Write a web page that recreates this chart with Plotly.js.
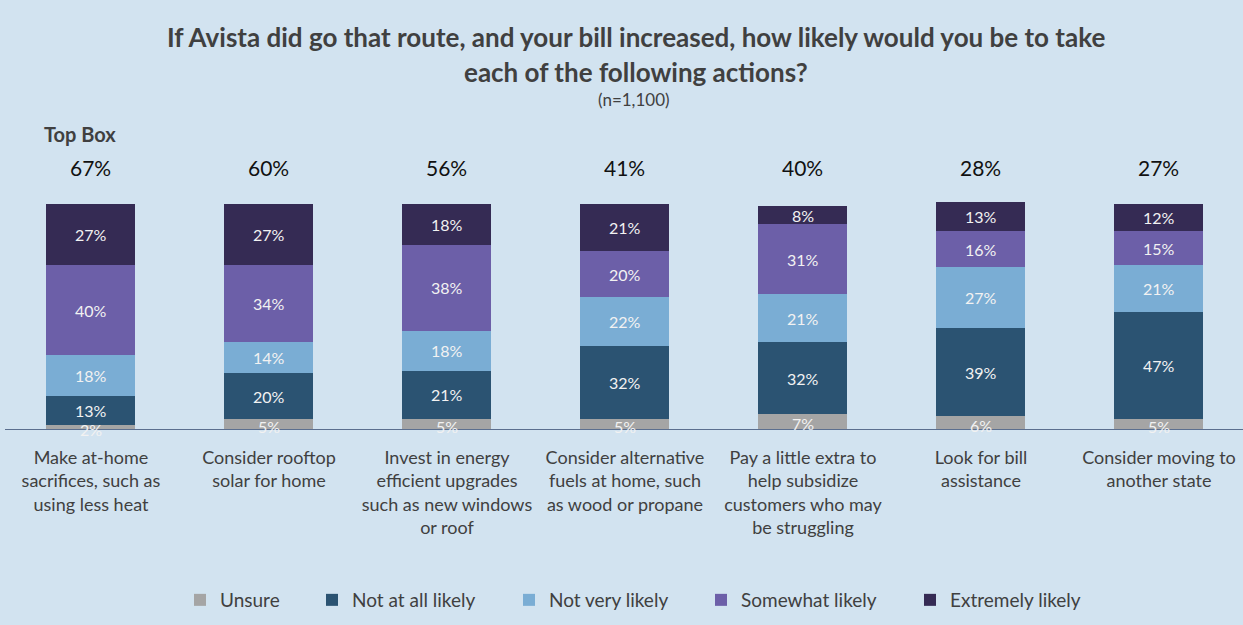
<!DOCTYPE html>
<html>
<head>
<meta charset="utf-8">
<script src="https://cdn.plot.ly/plotly-3.0.1.min.js"></script>
<style>html,body{margin:0;padding:0;background:#d2e3f0;}#chart{width:1243px;height:625px;}</style>
</head>
<body>
<div id="chart"></div>
<script>
const categories = [
  "Make at-home<br>sacrifices, such as<br>using less heat",
  "Consider rooftop<br>solar for home",
  "Invest in energy<br>efficient upgrades<br>such as new windows<br>or roof",
  "Consider alternative<br>fuels at home, such<br>as wood or propane",
  "Pay a little extra to<br>help subsidize<br>customers who may<br>be struggling",
  "Look for bill<br>assistance",
  "Consider moving to<br>another state"
];
const unsure = [2, 5, 5, 5, 7, 6, 5];
const notAtAll = [13, 20, 21, 32, 32, 39, 47];
const notVery = [18, 14, 18, 22, 21, 27, 21];
const somewhat = [40, 34, 38, 20, 31, 16, 15];
const extremely = [27, 27, 18, 21, 8, 13, 12];
const topBox = [67, 60, 56, 41, 40, 28, 27];

const seriesNames = ["Unsure", "Not at all likely", "Not very likely", "Somewhat likely", "Extremely likely"];
const seriesVals = [unsure, notAtAll, notVery, somewhat, extremely];
const colors = ["#a5a5a5", "#2b5372", "#7aadd4", "#6c5fa8", "#352b54"];

const W = 1243, H = 625, T = 140, B = 195;
const plotH = H - T - B;
const baseY = H - B;
const py = p => (baseY - p) / plotH;   // pixel y -> paper y
const px = p => p / W;                 // pixel x -> paper x

const font = "Lato, 'Open Sans', sans-serif";
const legendIds = ["legend", "legend2", "legend3", "legend4", "legend5"];
const legendMarkerX = [200, 332, 529, 721, 930];

const xs = categories.map((c, i) => i);
const traces = seriesVals.map((vals, k) => ({
  type: "bar",
  name: seriesNames[k],
  x: xs,
  y: vals,
  marker: {color: colors[k], line: {width: 0}},
  width: 0.5,
  textposition: "none",
  hoverinfo: "skip",
  legend: legendIds[k]
}));

const annotations = [];
xs.forEach((x, i) => {
  let cum = 0;
  seriesVals.forEach((vals, k) => {
    const v = vals[i];
    let yc = cum + v / 2;
    if (k === 0) yc = cum + v / 2 - 0.8;
    annotations.push({
      x: x, y: yc, xref: "x", yref: "y",
      text: v + "%", showarrow: false,
      font: {family: font, size: 16, color: "#f2f2f2"},
      yanchor: "middle"
    });
    cum += v;
  });
  annotations.push({
    x: x, y: py(167), xref: "x", yref: "paper",
    text: topBox[i] + "%", showarrow: false,
    font: {family: font, size: 21, color: "#111111"},
    yanchor: "middle"
  });
});
annotations.push({
  x: px(80), y: py(134), xref: "paper", yref: "paper", xanchor: "center", yanchor: "middle",
  text: "<b>Top Box</b>", showarrow: false,
  font: {family: font, size: 20, color: "#404040"}
});
annotations.push({
  x: px(636), y: py(37), xref: "paper", yref: "paper", xanchor: "center", yanchor: "middle",
  text: "<b>If Avista did go that route, and your bill increased, how likely would you be to take</b>",
  showarrow: false, font: {family: font, size: 26, color: "#404040"}
});
annotations.push({
  x: px(636), y: py(72), xref: "paper", yref: "paper", xanchor: "center", yanchor: "middle",
  text: "<b>each of the following actions?</b>",
  showarrow: false, font: {family: font, size: 26, color: "#404040"}
});
annotations.push({
  x: px(634), y: py(100), xref: "paper", yref: "paper", xanchor: "center", yanchor: "middle",
  text: "(n=1,100)",
  showarrow: false, font: {family: font, size: 17, color: "#404040"}
});

const layout = {
  width: W, height: H,
  paper_bgcolor: "#d2e3f0",
  plot_bgcolor: "#d2e3f0",
  margin: {l: 0, r: 0, t: T, b: B},
  barmode: "stack",
  xaxis: {
    range: [-0.511, 6.472],
    tickvals: xs, ticktext: categories,
    tickfont: {family: font, size: 18, color: "#404040"},
    ticklabelstandoff: 15,
    showgrid: false, zeroline: false, showline: false,
    ticks: "", fixedrange: true
  },
  yaxis: {
    range: [0, 128.3],
    visible: false, showgrid: false, zeroline: false, fixedrange: true
  },
  shapes: [{
    type: "line", xref: "paper", yref: "y", x0: px(5), x1: 1, y0: 0, y1: 0,
    line: {color: "#5b6f8f", width: 2}
  }],
  annotations: annotations,
  showlegend: true
};
legendIds.forEach((id, k) => {
  layout[id] = {
    orientation: "h", x: px(legendMarkerX[k] - 20), xanchor: "left",
    y: py(600), yanchor: "middle",
    font: {family: font, size: 19, color: "#404040"},
    itemwidth: 30, bgcolor: "rgba(0,0,0,0)", borderwidth: 0
  };
});

Plotly.newPlot("chart", traces, layout, {displayModeBar: false, staticPlot: true});
</script>
</body>
</html>
